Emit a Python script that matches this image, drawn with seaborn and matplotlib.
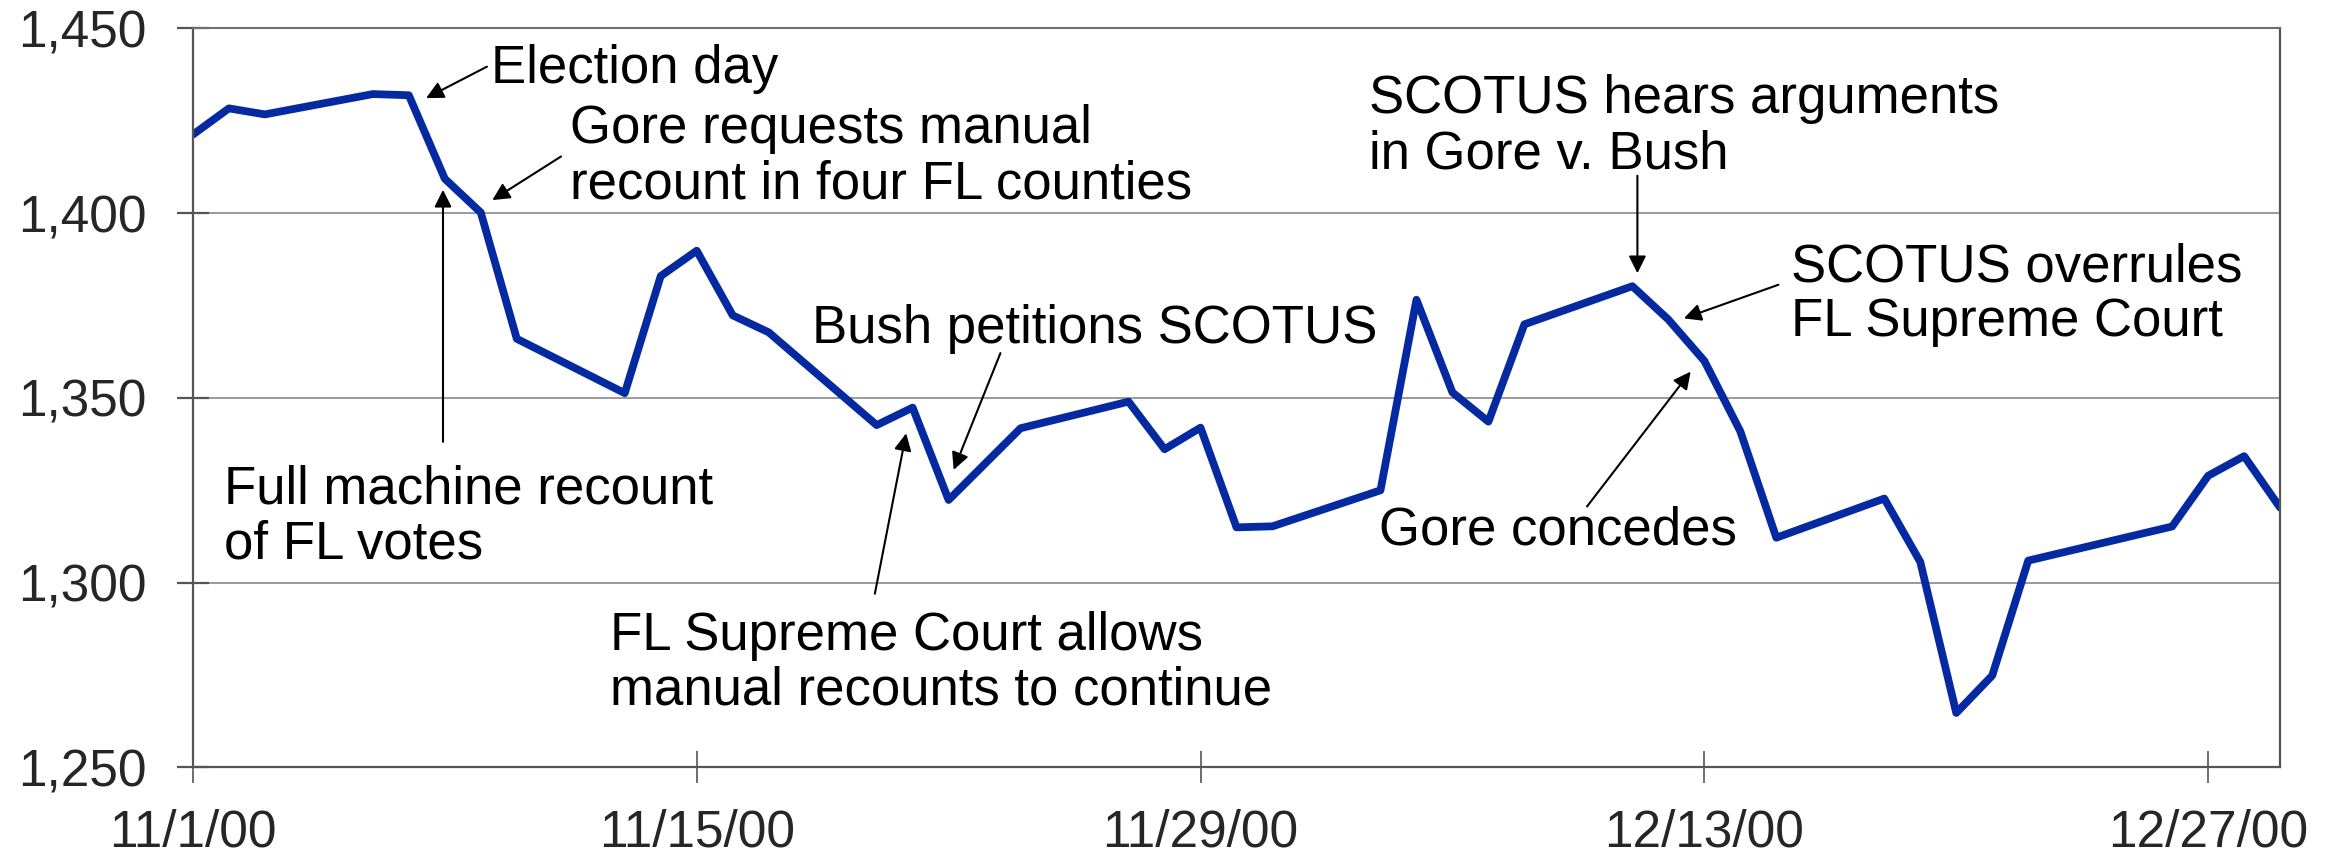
import pandas as pd
import numpy as np
import seaborn as sns
import matplotlib.pyplot as plt
import matplotlib.dates as mdates
from matplotlib.ticker import StrMethodFormatter

# S&P 500 daily close, Nov-Dec 2000
dates = ['2000-11-01', '2000-11-02', '2000-11-03', '2000-11-06', '2000-11-07',
         '2000-11-08', '2000-11-09', '2000-11-10', '2000-11-13', '2000-11-14',
         '2000-11-15', '2000-11-16', '2000-11-17', '2000-11-20', '2000-11-21',
         '2000-11-22', '2000-11-24', '2000-11-27', '2000-11-28', '2000-11-29',
         '2000-11-30', '2000-12-01', '2000-12-04', '2000-12-05', '2000-12-06',
         '2000-12-07', '2000-12-08', '2000-12-11', '2000-12-12', '2000-12-13',
         '2000-12-14', '2000-12-15', '2000-12-18', '2000-12-19', '2000-12-20',
         '2000-12-21', '2000-12-22', '2000-12-26', '2000-12-27', '2000-12-28',
         '2000-12-29']
closes = [1421.22, 1428.32, 1426.69, 1432.19, 1431.87,
          1409.28, 1400.14, 1365.98, 1351.26, 1382.95,
          1389.81, 1372.32, 1367.72, 1342.62, 1347.35,
          1322.36, 1341.77, 1348.97, 1336.09, 1341.93,
          1314.95, 1315.23, 1324.97, 1376.54, 1351.46,
          1343.55, 1369.89, 1380.20, 1371.18, 1359.99,
          1340.93, 1312.15, 1322.74, 1305.60, 1264.74,
          1274.86, 1305.95, 1315.19, 1328.92, 1334.22,
          1320.28]

x_ticks = ['2000-11-01', '2000-11-15', '2000-11-29', '2000-12-13', '2000-12-27']
x_tick_labels = ['11/1/00', '11/15/00', '11/29/00', '12/13/00', '12/27/00']
y_ticks = [1250, 1300, 1350, 1400, 1450]

# events: text, last-line baseline (days after 11/1, value), arrow tail, arrow head
events = [
    ('Election day', (8.28, 1435.3), (8.17, 1439.6), (6.48, 1431.1)),
    ('Gore requests manual\nrecount in four FL counties', (10.48, 1404.0), (10.23, 1415.3), (8.32, 1403.5)),
    ('Full machine recount\nof FL votes', (0.86, 1306.4), (6.95, 1338.1), (6.95, 1406.3)),
    ('Bush petitions SCOTUS', (17.2, 1364.8), (22.44, 1362.1), (21.14, 1330.5)),
    ('FL Supreme Court allows\nmanual recounts to continue', (11.58, 1267.0), (18.95, 1297.0), (19.82, 1340.4)),
    ('SCOTUS hears arguments\nin Gore v. Bush', (32.67, 1412.1), (40.14, 1410.1), (40.14, 1383.7)),
    ('SCOTUS overrules\nFL Supreme Court', (44.42, 1366.6), (44.06, 1380.6), (41.43, 1371.5)),
    ('Gore concedes', (32.95, 1310.2), (38.74, 1320.6), (41.62, 1357.1)),
]

df = pd.DataFrame({'date': pd.to_datetime(dates), 'close': closes})

sns.set_style('white')
plt.rcParams['font.family'] = ['Liberation Sans', 'DejaVu Sans']

fig, ax = plt.subplots(figsize=(23.41, 8.56), dpi=100)
fig.subplots_adjust(left=0.0824, right=0.974, top=0.967, bottom=0.1035)

sns.lineplot(data=df, x='date', y='close', ax=ax, color='#0529A0', linewidth=5.6)

start = pd.Timestamp('2000-11-01')
ax.set_xlim(start, pd.Timestamp('2000-12-29'))
ax.set_ylim(1250, 1450)
ax.set_xticks(pd.to_datetime(x_ticks))
ax.set_xticklabels(x_tick_labels)
ax.set_yticks(y_ticks)
ax.yaxis.set_major_formatter(StrMethodFormatter('{x:,.0f}'))
ax.set_xlabel('')
ax.set_ylabel('')

ax.yaxis.grid(True, color='#9a9a9a', linewidth=1.4)
ax.set_axisbelow(True)
for side in ['left', 'bottom', 'right']:
    ax.spines[side].set_color('#555555')
    ax.spines[side].set_linewidth(1.6)
ax.spines['top'].set_color('#707070')
ax.spines['top'].set_linewidth(1.5)

ax.tick_params(axis='y', direction='inout', length=23, width=1.6, color='#555555',
               labelsize=37, pad=22, left=True)
ax.tick_params(axis='x', direction='inout', length=23, width=1.2, color='#555555',
               labelsize=37, pad=18, bottom=True)

base = mdates.date2num(start)
for text, pos, tail, head in events:
    ax.text(base + pos[0], pos[1], text, fontsize=38, ha='left', va='baseline',
            linespacing=1.13, color='black')
    ax.annotate('', xy=(base + head[0], head[1]), xytext=(base + tail[0], tail[1]),
                arrowprops=dict(arrowstyle='-|>', color='black', lw=1.5,
                                mutation_scale=26, shrinkA=0, shrinkB=0))

fig.savefig('out.png', dpi=100)
